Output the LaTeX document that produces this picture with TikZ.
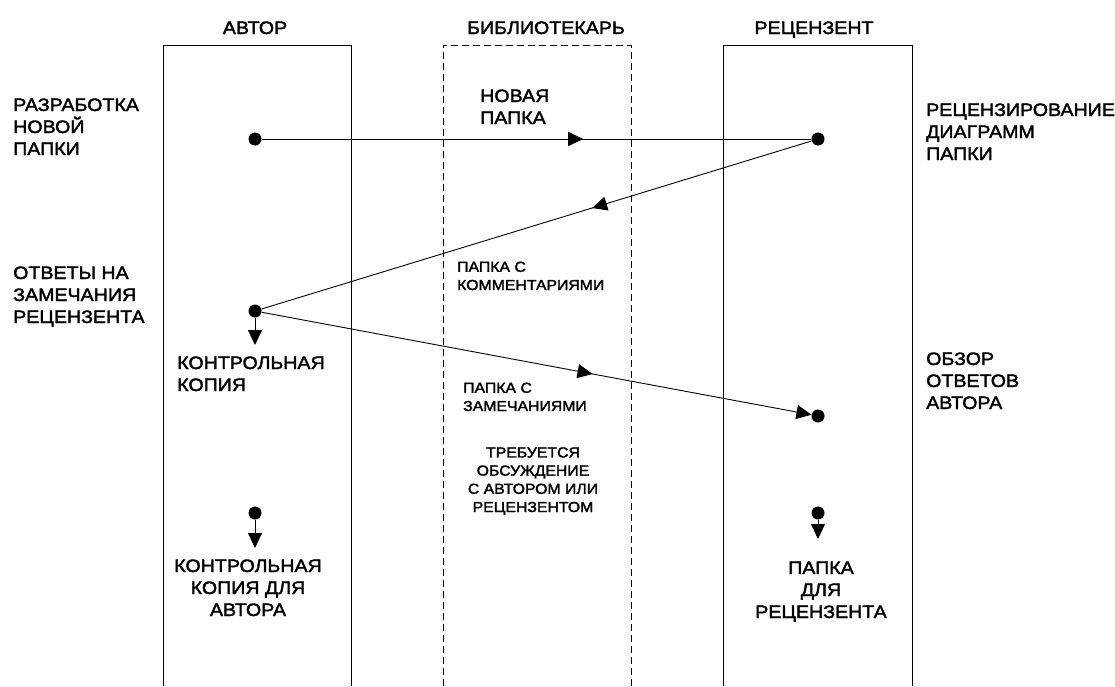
\documentclass[tikz,border=0pt]{standalone}
\usepackage{fontspec}
\setmainfont[FakeStretch=1.09,FakeBold=2]{Liberation Sans}
\usetikzlibrary{arrows.meta,decorations.markings}
\begin{document}
\begin{tikzpicture}[x=1pt,y=-1pt,
  dot/.style={circle,fill=black,inner sep=0pt,minimum size=13pt},
  lane/.style={line width=0.9pt},
  libl/.style={line width=0.9pt,dash pattern=on 7pt off 4pt},
  flow/.style={line width=0.9pt},
  tip/.style={-{Triangle[length=15pt,width=14pt]}},
  midarrow/.style={postaction={decorate},decoration={markings,mark=at position #1 with {\arrow{Triangle[length=15pt,width=14pt]}}}},
  big/.style={font=\fontsize{18}{22}\selectfont,inner sep=0pt},
  small/.style={font=\fontsize{14.5}{18.2}\selectfont,inner sep=0pt},
]
\useasboundingbox (0,0) rectangle (1115,686);

% lanes
\draw[lane] (163,686) -- (163,45) -- (351,45) -- (351,686);
\draw[libl] (443,686) -- (443,45) -- (631,45) -- (631,686);
\draw[lane] (723,686) -- (723,45) -- (912,45) -- (912,686);

% headers
\node[big,anchor=base] (hA) at (255,34) {АВТОР};
\node[big,anchor=base] (hB) at (546,34) {БИБЛИОТЕКАРЬ};
\node[big,anchor=base] (hR) at (814,34) {РЕЦЕНЗЕНТ};

% dots
\node[dot] (a1) at (255,139) {};
\node[dot] (r1) at (818,139) {};
\node[dot] (a2) at (255,311) {};
\node[dot] (r2) at (818,416) {};
\node[dot] (a3) at (255,513) {};
\node[dot] (r3) at (818,513) {};
\coordinate (a2t) at (255,345);
\coordinate (a3t) at (255,548);
\coordinate (r3t) at (818,539);

% flows
\draw[flow,midarrow=0.585] (a1) -- (r1);
\draw[flow,midarrow=0.399] (r1) -- (a2);
\draw[flow,tip,midarrow=0.602] (a2) -- (r2);
\draw[flow,tip] (a2) -- (a2t);
\draw[flow,tip] (a3) -- (a3t);
\draw[flow,tip] (r3) -- (r3t);

% left labels (anchor = baseline of last line)
\node[big,align=left,anchor=base west] (t1) at (13,155) {РАЗРАБОТКА\\НОВОЙ\\ПАПКИ};
\node[big,align=left,anchor=base west] (t2) at (13,323) {ОТВЕТЫ НА\\ЗАМЕЧАНИЯ\\РЕЦЕНЗЕНТА};

% right labels
\node[big,align=left,anchor=base west] (t3) at (926,160) {РЕЦЕНЗИРОВАНИЕ\\ДИАГРАММ\\ПАПКИ};
\node[big,align=left,anchor=base west] (t4) at (926,409) {ОБЗОР\\ОТВЕТОВ\\АВТОРА};

% flow labels
\node[big,align=left,anchor=base west] (t5) at (480,124) {НОВАЯ\\ПАПКА};
\node[small,align=left,anchor=base west] (t6) at (457,290) {ПАПКА С\\КОММЕНТАРИЯМИ};
\node[small,align=left,anchor=base west] (t7) at (463,411) {ПАПКА С\\ЗАМЕЧАНИЯМИ};
\node[small,align=center,anchor=base] (t8) at (533,512) {ТРЕБУЕТСЯ\\ОБСУЖДЕНИЕ\\С АВТОРОМ ИЛИ\\РЕЦЕНЗЕНТОМ};

% outputs
\node[big,align=left,anchor=base west] (t9) at (177,391) {КОНТРОЛЬНАЯ\\КОПИЯ};
\node[big,align=center,anchor=base] (t10) at (248,616) {КОНТРОЛЬНАЯ\\КОПИЯ ДЛЯ\\АВТОРА};
\node[big,align=center,anchor=base] (t11) at (821,618) {ПАПКА\\ДЛЯ\\РЕЦЕНЗЕНТА};
\end{tikzpicture}
\end{document}
